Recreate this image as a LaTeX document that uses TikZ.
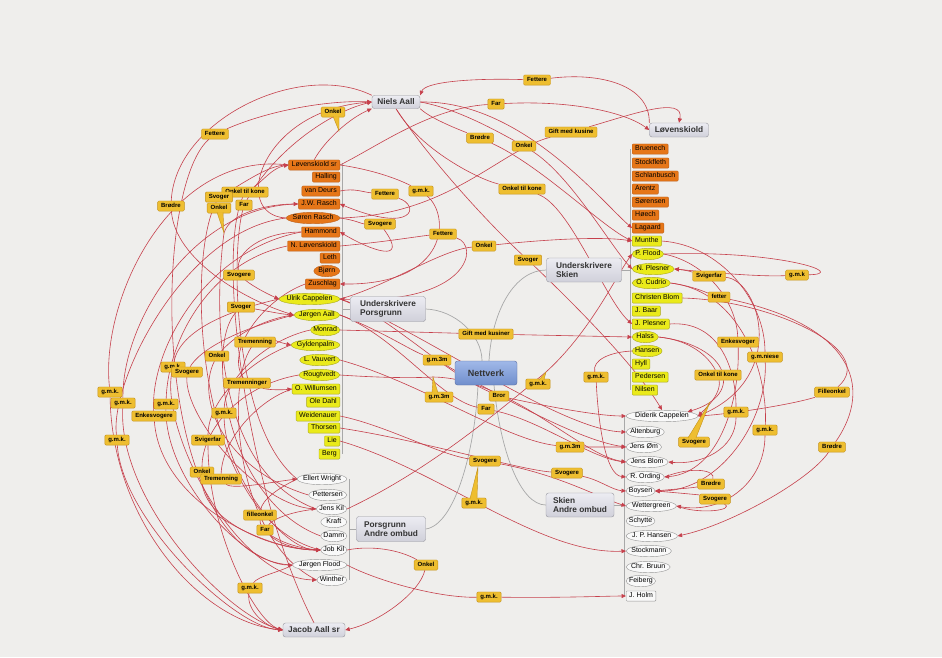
\documentclass[tikz,border=0pt]{standalone}
\usepackage{fontspec}
\setmainfont{Liberation Sans}
\usepackage{tikz}
\usepackage{xcolor}
\usetikzlibrary{
    arrows.meta,
    shapes.geometric,
    calc
}
\definecolor{bgcol}{RGB}{239,238,236}
\definecolor{relred}{RGB}{198,64,76}
\definecolor{treegray}{RGB}{168,168,168}
\definecolor{lblfill}{RGB}{238,190,48}
\definecolor{lbldraw}{RGB}{196,146,30}
\definecolor{orfill}{RGB}{230,118,24}
\definecolor{ordraw}{RGB}{188,96,28}
\definecolor{yefill}{RGB}{234,234,26}
\definecolor{yedraw}{RGB}{168,168,30}
\definecolor{whfill}{RGB}{249,249,249}
\definecolor{whdraw}{RGB}{150,150,150}
\definecolor{hubfill}{RGB}{208,208,218}
\definecolor{hubtop}{RGB}{236,236,242}
\definecolor{hubdraw}{RGB}{150,150,158}
\definecolor{netfill}{RGB}{112,142,204}
\definecolor{nettop}{RGB}{160,184,232}
\definecolor{netdraw}{RGB}{88,108,160}
\newcommand{\nmfont}{\fontsize{7}{8}\selectfont}
\newcommand{\lbfont}{\fontsize{6}{7}\selectfont\bfseries}
\newcommand{\hbfont}{\fontsize{8.3}{9.5}\selectfont\bfseries}
\pgfdeclarelayer{backdrop}
\pgfdeclarelayer{links}
\pgfsetlayers{backdrop,links,main}
\tikzset{
    orng/.style={draw=ordraw, fill=orfill, rounded corners=1pt, font=\nmfont, inner xsep=3pt, inner ysep=1.8pt, text height=5pt, text depth=1.5pt},
    orngel/.style={ellipse, draw=ordraw, fill=orfill, font=\nmfont, inner xsep=-1.5pt, inner ysep=0.8pt, text height=5pt, text depth=1.5pt, minimum width=26pt},
    yelw/.style={draw=yedraw, fill=yefill, rounded corners=1pt, font=\nmfont, inner xsep=3pt, inner ysep=1.8pt, text height=5pt, text depth=1.5pt},
    yelwel/.style={ellipse, draw=yedraw, fill=yefill, font=\nmfont, inner xsep=-1.5pt, inner ysep=0.8pt, text height=5pt, text depth=1.5pt, minimum width=26pt},
    whtel/.style={ellipse, draw=whdraw, fill=whfill, font=\nmfont, inner xsep=-1.5pt, inner ysep=0.8pt, text height=5pt, text depth=1.5pt, minimum width=26pt},
    whtbx/.style={draw=whdraw, fill=whfill, rounded corners=1pt, font=\nmfont, inner xsep=3pt, inner ysep=1.8pt, text height=5pt, text depth=1.5pt},
    rlbl/.style={draw=lbldraw, fill=lblfill, rounded corners=1.2pt, font=\lbfont, inner xsep=3.5pt, inner ysep=2.2pt, text height=4.4pt, text depth=1.3pt},
    ptr/.style={fill=lblfill, draw=lbldraw, line width=0.4pt},
    hubx/.style={draw=hubdraw, top color=hubtop, bottom color=hubfill, rounded corners=2.5pt, font=\hbfont, text=black!80, inner sep=2pt},
    netx/.style={draw=netdraw, top color=nettop, bottom color=netfill, rounded corners=2.5pt, font=\fontsize{9}{10}\selectfont\bfseries, text=black!80, inner sep=2pt},
    rel/.style={draw=relred, line width=0.6pt, -{Triangle[length=4.5pt,width=4pt]}},
    tree/.style={draw=treegray, line width=0.7pt}
}

\begin{document}
\begin{tikzpicture}[x=1pt, y=1pt]
    \useasboundingbox (0,0) rectangle (942,-657);
    \begin{pgfonlayer}{backdrop}
        \fill[bgcol] (0,0) rectangle (942,-657);
    \end{pgfonlayer}

    \node[hubx, minimum width=48pt, minimum height=13pt] (niels) at (396,-102) {Niels Aall};
    \node[hubx, minimum width=59pt, minimum height=14pt] (loev) at (679,-130) {Løvenskiold};
    \node[hubx, minimum width=75pt, minimum height=25pt, align=left] (upors) at (388,-309) {Underskrivere\\Porsgrunn};
    \node[hubx, minimum width=75pt, minimum height=24pt, align=left] (uskien) at (584,-270) {Underskrivere\\Skien};
    \node[netx, minimum width=62pt, minimum height=24pt] (nett) at (486,-373) {Nettverk};
    \node[hubx, minimum width=69pt, minimum height=25pt, align=left] (apors) at (391,-529) {Porsgrunn\\Andre ombud};
    \node[hubx, minimum width=68pt, minimum height=24pt, align=left] (askien) at (580,-505) {Skien\\Andre ombud};
    \node[hubx, minimum width=62pt, minimum height=14pt] (jacob) at (314,-630) {Jacob Aall sr};

    \node[orng, anchor=east] (lovsr) at (340,-165) {Løvenskiold sr};
    \node[orng, anchor=east] (halling) at (340,-177) {Halling};
    \node[orng, anchor=east] (vandeurs) at (340,-191) {van Deurs};
    \node[orng, anchor=east] (jwrasch) at (340,-204) {J.W. Rasch};
    \node[orngel, anchor=east] (srasch) at (340,-218) {Søren Rasch};
    \node[orng, anchor=east] (hammond) at (340,-232) {Hammond};
    \node[orng, anchor=east] (nlov) at (340,-246) {N. Løvenskiold};
    \node[orng, anchor=east] (leth) at (340,-258) {Leth};
    \node[orngel, anchor=east] (bjorn) at (340,-271) {Bjørn};
    \node[orng, anchor=east] (zuschlag) at (340,-284) {Zuschlag};
    \node[yelwel, anchor=east] (ucap) at (340,-299) {Ulrik Cappelen};
    \node[yelwel, anchor=east] (jaall) at (340,-315) {Jørgen Aall};
    \node[yelwel, anchor=east] (monrad) at (340,-330) {Monrad};
    \node[yelwel, anchor=east] (gyldenpalm) at (340,-345) {Gyldenpalm};
    \node[yelwel, anchor=east] (vauvert) at (340,-360) {L. Vauvert};
    \node[yelwel, anchor=east] (rougtvedt) at (340,-375) {Rougtvedt};
    \node[yelw, anchor=east] (willumsen) at (340,-389) {O. Willumsen};
    \node[yelw, anchor=east] (oledahl) at (340,-402) {Ole Dahl};
    \node[yelw, anchor=east] (weidenauer) at (340,-416) {Weidenauer};
    \node[yelw, anchor=east] (thorsen) at (340,-428) {Thorsen};
    \node[yelw, anchor=east] (lie) at (340,-441) {Lie};
    \node[yelw, anchor=east] (berg) at (340,-454) {Berg};

    \node[orng, anchor=west] (bruenech) at (632,-149) {Bruenech};
    \node[orng, anchor=west] (stockfleth) at (632,-163) {Stockfleth};
    \node[orng, anchor=west] (schlanbusch) at (632,-176) {Schlanbusch};
    \node[orng, anchor=west] (arentz) at (632,-189) {Arentz};
    \node[orng, anchor=west] (sorensen) at (632,-202) {Sørensen};
    \node[orng, anchor=west] (hoech) at (632,-215) {Høech};
    \node[orng, anchor=west] (lagaard) at (632,-228) {Lagaard};
    \node[yelw, anchor=west] (munthe) at (632,-241) {Munthe};
    \node[yelwel, anchor=west] (pflood) at (632,-254) {P. Flood};
    \node[yelwel, anchor=west] (nplesner) at (632,-269) {N. Plesner};
    \node[yelwel, anchor=west] (cudrio) at (632,-283) {O. Cudrio};
    \node[yelw, anchor=west] (cblom) at (632,-298) {Christen Blom};
    \node[yelw, anchor=west] (baar) at (632,-311) {J. Baar};
    \node[yelw, anchor=west] (jplesner) at (632,-324) {J. Plesner};
    \node[yelwel, anchor=west] (halss) at (632,-337) {Halss};
    \node[yelwel, anchor=west] (hansen) at (632,-351) {Hansen};
    \node[yelw, anchor=west] (hyll) at (632,-364) {Hyll};
    \node[yelw, anchor=west] (pedersen) at (632,-377) {Pedersen};
    \node[yelw, anchor=west] (nilsen) at (632,-390) {Nilsen};

    \node[whtel, anchor=west] (dcap) at (626,-416) {Diderik Cappelen};
    \node[whtel, anchor=west] (altenburg) at (626,-432) {Altenburg};
    \node[whtel, anchor=west] (jensom) at (626,-447) {Jens Øm};
    \node[whtel, anchor=west] (jensblom) at (626,-462) {Jens Blom};
    \node[whtel, anchor=west] (ording) at (626,-477) {R. Ording};
    \node[whtel, anchor=west] (boysen) at (626,-491) {Boysen};
    \node[whtel, anchor=west] (wettergreen) at (626,-506) {Wettergreen};
    \node[whtel, anchor=west] (schytte) at (626,-521) {Schytte};
    \node[whtel, anchor=west] (jphansen) at (626,-536) {J. P. Hansen};
    \node[whtel, anchor=west] (stockmann) at (626,-551) {Stockmann};
    \node[whtel, anchor=west] (bruun) at (626,-567) {Chr. Bruun};
    \node[whtel, anchor=west] (feiberg) at (626,-581) {Feiberg};
    \node[whtbx, anchor=west] (holm) at (626,-596) {J. Holm};

    \node[whtel, anchor=east] (wright) at (347,-479) {Ellert Wright};
    \node[whtel, anchor=east] (pettersen) at (347,-495) {Pettersen};
    \node[whtel, anchor=east] (jenskil) at (347,-509) {Jens Kil};
    \node[whtel, anchor=east] (kraft) at (347,-522) {Kraft};
    \node[whtel, anchor=east] (damm) at (347,-536) {Damm};
    \node[whtel, anchor=east] (jobkil) at (347,-550) {Job Kil};
    \node[whtel, anchor=east] (jflood) at (347,-565) {Jørgen Flood};
    \node[whtel, anchor=east] (winther) at (347,-580) {Winther};

    \node[rlbl] (fet1) at (215,-134) {Fettere};
    \node[rlbl] (onk1) at (333,-112) {Onkel};
    \node[rlbl] (fet2) at (537,-80) {Fettere};
    \node[rlbl] (far1) at (496,-104) {Far};
    \node[rlbl] (bro1) at (480,-138) {Brødre};
    \node[rlbl] (gift1) at (571,-132) {Gift med kusine};
    \node[rlbl] (onk2) at (524,-146) {Onkel};
    \node[rlbl] (otk1) at (522,-189) {Onkel til kone};
    \node[rlbl] (fet3) at (385,-194) {Fettere};
    \node[rlbl] (gmk1) at (421,-191) {g.m.k.};
    \node[rlbl] (svo1) at (380,-224) {Svogere};
    \node[rlbl] (fet4) at (443,-234) {Fettere};
    \node[rlbl] (onk3) at (484,-246) {Onkel};
    \node[rlbl] (svg1) at (528,-260) {Svoger};
    \node[rlbl] (bre1) at (171,-206) {Brødre};
    \node[rlbl] (otk2) at (245,-192) {Onkel til kone};
    \node[rlbl] (svg2) at (219,-197) {Svoger};
    \node[rlbl] (onk4) at (219,-208) {Onkel};
    \node[rlbl] (far2) at (244,-205) {Far};
    \node[rlbl] (svo2) at (239,-275) {Svogere};
    \node[rlbl] (svg3) at (241,-307) {Svoger};
    \node[rlbl] (tre1) at (255,-342) {Tremenning};
    \node[rlbl] (onk5) at (217,-356) {Onkel};
    \node[rlbl] (gmk2) at (173,-367) {g.m.k.};
    \node[rlbl] (svo3) at (187,-372) {Svogere};
    \node[rlbl] (tre2) at (247,-383) {Tremenninger};
    \node[rlbl] (gmk3) at (110,-392) {g.m.k.};
    \node[rlbl] (gmk4) at (123,-403) {g.m.k.};
    \node[rlbl] (gmk5) at (166,-404) {g.m.k.};
    \node[rlbl] (enk1) at (154,-416) {Enkesvogere};
    \node[rlbl] (gmk6) at (224,-413) {g.m.k.};
    \node[rlbl] (gmk7) at (117,-440) {g.m.k.};
    \node[rlbl] (svf1) at (208,-440) {Svigerfar};
    \node[rlbl] (onk6) at (202,-472) {Onkel};
    \node[rlbl] (tre3) at (221,-479) {Tremenning};
    \node[rlbl] (fil1) at (260,-515) {filleonkel};
    \node[rlbl] (far3) at (265,-530) {Far};
    \node[rlbl] (gmk8) at (250,-588) {g.m.k.};
    \node[rlbl] (onk7) at (426,-565) {Onkel};
    \node[rlbl] (gift2) at (486,-334) {Gift med kusiner};
    \node[rlbl] (g3m1) at (437,-360) {g.m.3m};
    \node[rlbl] (g3m2) at (439,-397) {g.m.3m};
    \node[rlbl] (gmk9) at (538,-384) {g.m.k.};
    \node[rlbl] (bror) at (499,-396) {Bror};
    \node[rlbl] (far4) at (486,-409) {Far};
    \node[rlbl] (svo4) at (485,-461) {Svogere};
    \node[rlbl] (gmk10) at (474,-503) {g.m.k.};
    \node[rlbl] (g3m3) at (570,-447) {g.m.3m};
    \node[rlbl] (svo5) at (567,-473) {Svogere};
    \node[rlbl] (gmk11) at (489,-597) {g.m.k.};
    \node[rlbl] (gmk12) at (596,-377) {g.m.k.};
    \node[rlbl] (svf2) at (709,-276) {Svigerfar};
    \node[rlbl] (gmk13) at (797,-275) {g.m.k};
    \node[rlbl] (fett) at (719,-297) {fetter};
    \node[rlbl] (enk2) at (738,-342) {Enkesvoger};
    \node[rlbl] (gmn) at (765,-357) {g.m.niese};
    \node[rlbl] (otk3) at (718,-375) {Onkel til kone};
    \node[rlbl] (gmk14) at (736,-412) {g.m.k.};
    \node[rlbl] (gmk15) at (765,-430) {g.m.k.};
    \node[rlbl] (fil2) at (832,-392) {Filleonkel};
    \node[rlbl] (bre2) at (832,-447) {Brødre};
    \node[rlbl] (svo6) at (694,-442) {Svogere};
    \node[rlbl] (bro2) at (711,-484) {Brødre};
    \node[rlbl] (svo7) at (715,-499) {Svogere};

    \coordinate (onk1tip) at (339,-131);
    \coordinate (onk4tip) at (224,-233);
    \coordinate (g3m2tip) at (433,-377);
    \coordinate (gmk9tip) at (546,-372);
    \coordinate (gmk10tip) at (478,-467);
    \coordinate (svo6tip) at (710,-402);

    \filldraw[ptr] ($(onk1.south)+(0,1)$) -- (onk1tip) -- ($(onk1.south)+(6,1)$);
    \filldraw[ptr] ($(onk4.south)+(-2,1)$) -- (onk4tip) -- ($(onk4.south)+(4,1)$);
    \filldraw[ptr] ($(g3m2.north)+(-7,-1)$) -- (g3m2tip) -- ($(g3m2.north)+(-1,-1)$);
    \filldraw[ptr] ($(gmk9.north)+(1,-1)$) -- (gmk9tip) -- ($(gmk9.north)+(6,-1)$);
    \filldraw[ptr] ($(gmk10.north)+(-4,-1)$) -- (gmk10tip) -- ($(gmk10.north)+(3,-1)$);
    \filldraw[ptr] ($(svo6.north)+(-6,-1)$) -- (svo6tip) -- ($(svo6.north)+(2,-1)$);

    \begin{pgfonlayer}{links}
        \draw[tree] (342,-163) -- (342,-454);
        \draw[tree] (upors.west) -- (342,-309);
        \draw[tree] (630,-149) -- (630,-390);
        \draw[tree] (uskien.east) -- (630,-270);
        \draw[tree] (624,-416) -- (624,-596);
        \draw[tree] (askien.east) -- (624,-505);
        \draw[tree] (349,-479) -- (349,-580);
        \draw[tree] (apors.west) -- (349,-529);
        \draw[tree] (upors.east) .. controls (455,-310) and (482,-335) .. ($(nett.north)+(-4,0)$);
        \draw[tree] ($(nett.north)+(3,0)$) .. controls (492,-310) and (515,-270) .. (uskien.west);
        \draw[tree] (apors.east) .. controls (455,-525) and (475,-450) .. ($(nett.south)+(-8,0)$);
        \draw[tree] ($(nett.south)+(8,0)$) .. controls (500,-450) and (520,-505) .. (askien.west);

        \draw[rel] (jflood.west) .. controls (150,-560) and (150,-190) .. (fet1) .. controls (270,-110) and (330,-100) .. (niels.west);
        \draw[rel] (lovsr.north) .. controls (325,-140) and (350,-118) .. (niels.south west);
        \draw[rel] (loev.north west) .. controls (650,-85) and (600,-72) .. (fet2) .. controls (470,-78) and (425,-82) .. (niels.north east);
        \draw[rel] (lovsr.east) .. controls (380,-145) and (430,-108) .. (far1) .. controls (570,-100) and (625,-112) .. (loev.west);
        \draw[rel] (srasch.east) .. controls (450,-215) and (500,-150) .. (gift1) .. controls (630,-115) and (685,-95) .. (loev.north);
        \draw[rel] (niels.south east) .. controls (430,-118) and (455,-128) .. (bro1) .. controls (540,-165) and (600,-225) .. (munthe.west);
        \draw[rel] (niels.east) .. controls (455,-108) and (495,-130) .. (onk2) .. controls (570,-175) and (610,-245) .. (nplesner.west);
        \draw[rel] (niels.south) .. controls (420,-150) and (480,-180) .. (otk1) .. controls (570,-205) and (605,-300) .. (jplesner.west);
        \draw[rel] (vandeurs.east) .. controls (355,-188) and (362,-192) .. (fet3) .. controls (420,-205) and (415,-235) .. (jwrasch.east);
        \draw[rel] (lovsr.east) .. controls (375,-170) and (400,-180) .. (gmk1) .. controls (450,-215) and (450,-285) .. (zuschlag.east);
        \draw[rel] (srasch.east) .. controls (355,-220) and (362,-224) .. (svo1) .. controls (410,-265) and (370,-250) .. (hammond.east);
        \draw[rel] (nlov.east) .. controls (385,-242) and (420,-236) .. (fet4) .. controls (480,-245) and (470,-305) .. (ucap.east);
        \draw[rel] (ucap.east) .. controls (390,-285) and (440,-250) .. (onk3) .. controls (540,-240) and (600,-236) .. (munthe.west);
        \draw[rel] (niels.south) .. controls (430,-160) and (490,-225) .. (svg1) .. controls (575,-305) and (635,-365) .. (dcap.north);
        \draw[rel] (niels.east) .. controls (520,-100) and (600,-200) .. (lagaard.west);
        \draw[rel] (srasch.west) .. controls (230,-215) and (260,-110) .. (niels.west);

        \draw[rel] (niels.north west) .. controls (300,-60) and (175,-120) .. (bre1) .. controls (175,-260) and (245,-300) .. (jaall.west);
        \draw[rel] (jacob.north) .. controls (250,-500) and (215,-260) .. (otk2) .. controls (262,-182) and (272,-168) .. (lovsr.west);
        \draw[rel] (jobkil.west) .. controls (195,-520) and (185,-260) .. (svg2) .. controls (245,-182) and (268,-166) .. (lovsr.west);
        \draw[rel] (jenskil.west) .. controls (210,-470) and (215,-300) .. (onk4tip) .. controls (230,-212) and (270,-204) .. (jwrasch.west);
        \draw[rel] (wright.west) .. controls (235,-430) and (230,-260) .. (far2) .. controls (275,-150) and (330,-112) .. (niels.west);
        \draw[rel] (hammond.west) .. controls (262,-232) and (236,-252) .. (svo2) .. controls (255,-288) and (272,-296) .. (ucap.west);
        \draw[rel] (damm.west) .. controls (225,-500) and (205,-345) .. (svg3) .. controls (262,-310) and (280,-314) .. (jaall.west);
        \draw[rel] (winther.west) .. controls (235,-540) and (225,-385) .. (tre1) .. controls (272,-340) and (282,-343) .. (gyldenpalm.west);
        \draw[rel] (pettersen.west) .. controls (225,-470) and (195,-400) .. (onk5) .. controls (240,-330) and (272,-318) .. (jaall.west);
        \draw[rel] (ucap.west) .. controls (230,-310) and (180,-330) .. (gmk2) .. controls (160,-430) and (235,-578) .. (winther.west);
        \draw[rel] (jaall.west) .. controls (235,-330) and (200,-350) .. (svo3) .. controls (185,-420) and (260,-505) .. (jenskil.west);
        \draw[rel] (zuschlag.west) .. controls (262,-300) and (225,-352) .. (tre2) .. controls (268,-390) and (282,-390) .. (willumsen.west);
        \draw[rel] (lovsr.west) .. controls (170,-150) and (100,-300) .. (gmk3) .. controls (112,-520) and (200,-622) .. (jacob.west);
        \draw[rel] (jwrasch.west) .. controls (195,-205) and (122,-320) .. (gmk4) .. controls (118,-500) and (225,-615) .. (jacob.west);
        \draw[rel] (srasch.west) .. controls (185,-230) and (110,-380) .. (gmk7) .. controls (122,-520) and (235,-628) .. (jacob.west);
        \draw[rel] (hammond.west) .. controls (205,-250) and (150,-350) .. (enk1) .. controls (160,-500) and (262,-550) .. (jobkil.west);
        \draw[rel] (nlov.west) .. controls (210,-262) and (168,-340) .. (gmk5) .. controls (165,-480) and (245,-565) .. (jflood.west);
        \draw[rel] (monrad.west) .. controls (265,-340) and (225,-380) .. (gmk6) .. controls (225,-470) and (280,-550) .. (jobkil.west);
        \draw[rel] (gyldenpalm.west) .. controls (250,-360) and (208,-400) .. (svf1) .. controls (208,-530) and (255,-622) .. (jacob.west);
        \draw[rel] (rougtvedt.west) .. controls (240,-385) and (202,-430) .. (onk6) .. controls (200,-520) and (272,-550) .. (jobkil.west);
        \draw[rel] (willumsen.west) .. controls (258,-400) and (222,-440) .. (tre3) .. controls (232,-490) and (272,-482) .. (wright.west);
        \draw[rel] (wright.west) .. controls (278,-488) and (262,-500) .. (fil1) .. controls (260,-535) and (292,-548) .. (jobkil.west);
        \draw[rel] (jenskil.west) .. controls (288,-512) and (272,-520) .. (far3) .. controls (276,-542) and (295,-550) .. (jobkil.west);
        \draw[rel] (jflood.west) .. controls (280,-572) and (258,-576) .. (gmk8) .. controls (246,-610) and (265,-626) .. (jacob.west);
        \draw[rel] (jobkil.east) .. controls (372,-545) and (400,-550) .. (onk7) .. controls (420,-592) and (380,-622) .. (jacob.east);

        \draw[rel] (monrad.east) -- (gift2) -- (halss.west);
        \draw[rel] (jaall.east) .. controls (380,-330) and (410,-350) .. (g3m1) .. controls (480,-385) and (575,-440) .. (jensom.west);
        \draw[rel] (vauvert.east) .. controls (420,-382) and (505,-440) .. (g3m3) .. controls (598,-447) and (610,-447) .. (jensom.west);
        \draw[rel] (rougtvedt.east) .. controls (385,-378) and (415,-378) .. (g3m2tip) .. controls (510,-378) and (580,-455) .. (jensblom.west);
        \draw[rel] (ucap.east) .. controls (385,-312) and (440,-370) .. (bror) .. controls (555,-408) and (600,-416) .. (dcap.west);
        \draw[rel] (jaall.east) .. controls (395,-335) and (440,-400) .. (far4) .. controls (540,-420) and (590,-458) .. (jensblom.west);
        \draw[rel] (weidenauer.east) .. controls (385,-425) and (440,-455) .. (svo4) .. controls (560,-475) and (600,-498) .. (wettergreen.west);
        \draw[rel] (thorsen.east) .. controls (420,-440) and (520,-470) .. (svo5) .. controls (600,-480) and (612,-490) .. (boysen.west);
        \draw[rel] (jflood.east) .. controls (380,-582) and (440,-598) .. (gmk11) .. controls (560,-598) and (608,-596) .. (holm.west);
        \draw[rel] (hansen.west) .. controls (610,-352) and (592,-360) .. (gmk12) .. controls (598,-420) and (605,-475) .. (ording.west);
        \draw[rel] (lie.east) .. controls (440,-470) and (540,-555) .. (stockmann.west);
        \draw[rel] (jenskil.east) .. controls (430,-470) and (500,-410) .. (gmk9tip) .. controls (590,-332) and (615,-278) .. (pflood.west);
        \draw[rel] (ucap.east) .. controls (420,-330) and (560,-430) .. (altenburg.west);

        \draw[rel] (dcap.east) .. controls (790,-380) and (760,-280) .. (svf2) .. controls (692,-272) and (686,-270) .. (nplesner.east);
        \draw[rel] (pflood.east) .. controls (780,-250) and (850,-274) .. (gmk13) .. controls (760,-277) and (705,-272) .. (nplesner.east);
        \draw[rel] (cudrio.east) .. controls (692,-286) and (705,-292) .. (fett) .. controls (850,-325) and (875,-385) .. (bre2) .. controls (810,-480) and (730,-525) .. (jphansen.east);
        \draw[rel] (cblom.east) .. controls (770,-300) and (880,-350) .. (fil2) .. controls (790,-405) and (730,-414) .. (dcap.east);
        \draw[rel] (pflood.east) .. controls (705,-262) and (736,-300) .. (enk2) .. controls (740,-400) and (720,-472) .. (ording.east);
        \draw[rel] (munthe.east) .. controls (720,-245) and (765,-300) .. (gmn) .. controls (768,-420) and (720,-492) .. (boysen.east);
        \draw[rel] (halss.east) .. controls (690,-340) and (708,-356) .. (otk3) .. controls (722,-395) and (702,-412) .. (dcap.east);
        \draw[rel] (halss.east) .. controls (730,-345) and (745,-395) .. (dcap.north east);
        \draw[rel] (jplesner.east) .. controls (720,-320) and (736,-370) .. (gmk14) .. controls (736,-450) and (700,-465) .. (jensblom.east);
        \draw[rel] (cudrio.east) .. controls (745,-292) and (768,-380) .. (gmk15) .. controls (765,-485) and (720,-514) .. (wettergreen.east);
        \draw[rel] (ording.east) .. controls (692,-466) and (716,-470) .. (bro2) .. controls (692,-488) and (676,-489) .. (boysen.east);
        \draw[rel] (wettergreen.east) .. controls (700,-515) and (735,-510) .. (svo7) .. controls (700,-495) and (680,-493) .. (boysen.east);
    \end{pgfonlayer}
\end{tikzpicture}
\end{document}
